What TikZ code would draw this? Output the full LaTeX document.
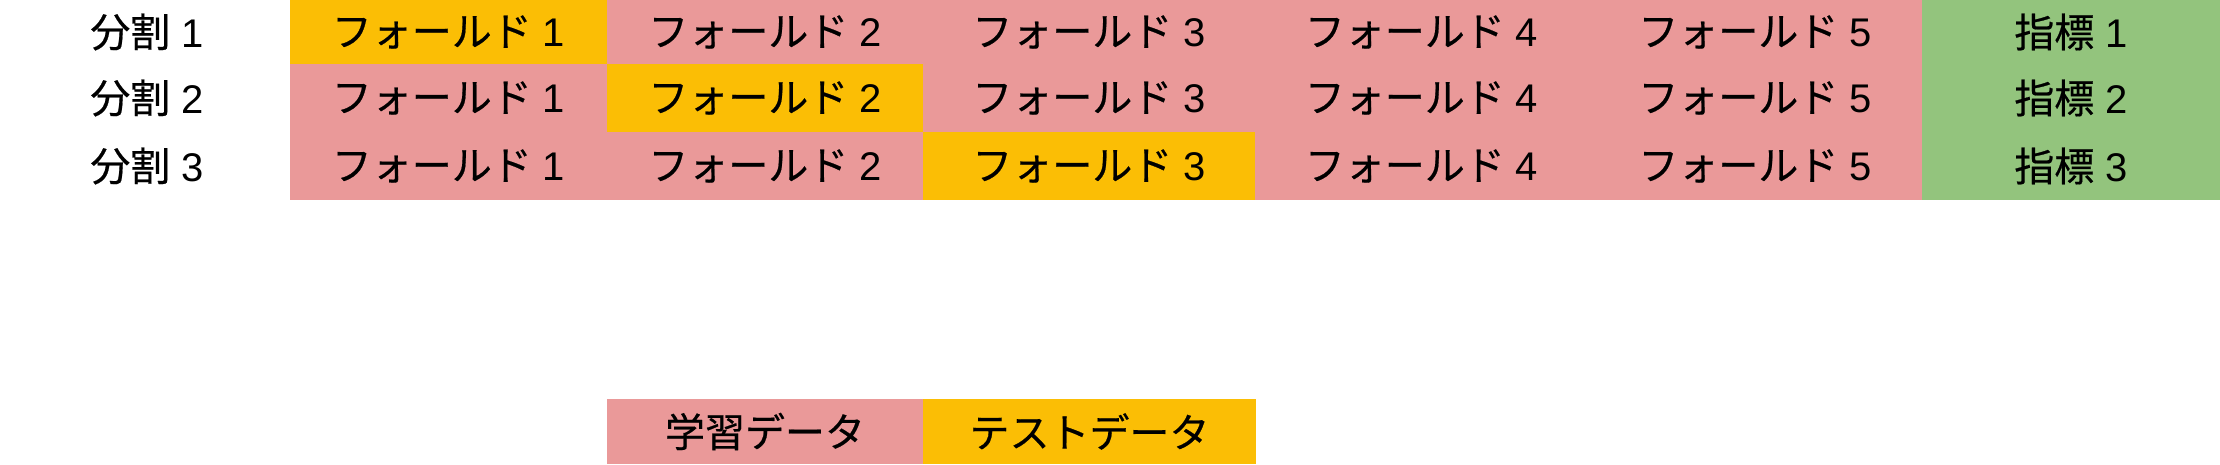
\documentclass[tikz,border=0pt]{standalone}
\usepackage{fontspec}
\newfontfamily\jp[FakeBold=0.5]{Noto Sans CJK JP}
\newfontfamily\lat{Liberation Sans}
\newcommand{\D}[1]{{\lat\ #1}}
\definecolor{trainc}{HTML}{EA9999}
\definecolor{testc}{HTML}{FBBE05}
\definecolor{metricc}{HTML}{93C47D}
\tikzset{
  cellbox/.style={rectangle, draw=none, inner sep=0pt, outer sep=0pt, font=\jp\fontsize{40}{46}\selectfont, text=black},
  trainbox/.style={cellbox, fill=trainc},
  testbox/.style={cellbox, fill=testc},
  metricbox/.style={cellbox, fill=metricc},
  rowlabel/.style={cellbox, fill=none}
}
\begin{document}
\begin{tikzpicture}[x=1pt, y={(0pt,-1pt)}]
\useasboundingbox (0,0) rectangle (2220,464);
% column edges: 290 607 923 1255 1588 1922 2220 ; row edges 0 64 132 200
\def\cell#1#2#3#4#5#6#7{% name, style, x0, x1, y0, y1, text
  \node[#2, minimum width=#4-#3, minimum height=#6-#5] (#1) at ({(#3+#4)/2},{(#5+#6)/2}) {#7};}
% row labels
\node[rowlabel] (r1) at (147,32) {分割\D{1}};
\node[rowlabel] (r2) at (147,98) {分割\D{2}};
\node[rowlabel] (r3) at (147,166) {分割\D{3}};
% row 1
\cell{a1}{testbox}{290}{607}{0}{64}{フォールド\D{1}}
\cell{a2}{trainbox}{607}{923}{0}{64}{フォールド\D{2}}
\cell{a3}{trainbox}{923}{1255}{0}{64}{フォールド\D{3}}
\cell{a4}{trainbox}{1255}{1588}{0}{64}{フォールド\D{4}}
\cell{a5}{trainbox}{1588}{1922}{0}{64}{フォールド\D{5}}
\cell{a6}{metricbox}{1922}{2220}{0}{64}{指標\D{1}}
% row 2
\cell{b1}{trainbox}{290}{607}{64}{132}{フォールド\D{1}}
\cell{b2}{testbox}{607}{923}{64}{132}{フォールド\D{2}}
\cell{b3}{trainbox}{923}{1255}{64}{132}{フォールド\D{3}}
\cell{b4}{trainbox}{1255}{1588}{64}{132}{フォールド\D{4}}
\cell{b5}{trainbox}{1588}{1922}{64}{132}{フォールド\D{5}}
\cell{b6}{metricbox}{1922}{2220}{64}{132}{指標\D{2}}
% row 3
\cell{c1}{trainbox}{290}{607}{132}{200}{フォールド\D{1}}
\cell{c2}{trainbox}{607}{923}{132}{200}{フォールド\D{2}}
\cell{c3}{testbox}{923}{1255}{132}{200}{フォールド\D{3}}
\cell{c4}{trainbox}{1255}{1588}{132}{200}{フォールド\D{4}}
\cell{c5}{trainbox}{1588}{1922}{132}{200}{フォールド\D{5}}
\cell{c6}{metricbox}{1922}{2220}{132}{200}{指標\D{3}}
% legend
\cell{l1}{trainbox}{607}{923}{399}{464}{学習データ}
\cell{l2}{testbox}{923}{1256}{399}{464}{テストデータ}
\end{tikzpicture}
\end{document}
